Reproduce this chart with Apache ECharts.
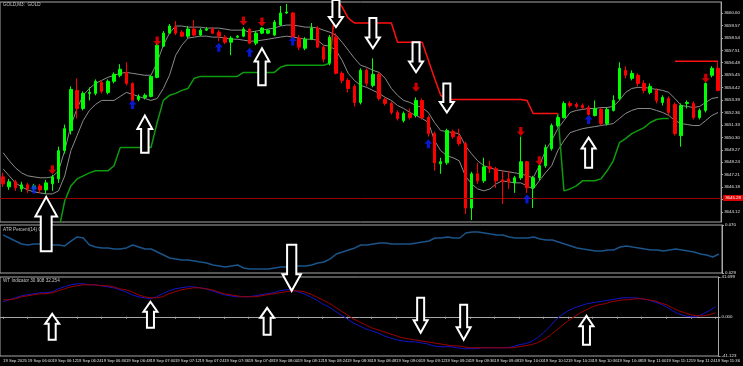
<!DOCTYPE html>
<html><head><meta charset="utf-8">
<script src="https://cdn.jsdelivr.net/npm/echarts@6/dist/echarts.min.js"></script>
<style>html,body{margin:0;padding:0;background:#000;}#c{width:743px;height:366px;}</style>
</head><body><div id="c"></div>
<script>
// ---------- DATA ----------
const times = [
'05:48','05:51','05:54','05:57',
'06:00','06:03','06:06','06:09','06:12','06:15','06:18','06:21','06:24','06:27','06:30','06:33','06:36','06:39','06:42','06:45','06:48','06:51','06:54','06:57',
'07:00','07:03','07:06','07:09','07:12','07:15','07:18','07:21','07:24','07:27','07:30','07:33','07:36','07:39','07:42','07:45','07:48','07:51','07:54','07:57',
'08:00','08:03','08:06','08:09','08:12','08:15','08:18','08:21','08:24','08:27','08:30','08:33','08:36','08:39','08:42','08:45','08:48','08:51','08:54','08:57',
'09:00','09:03','09:06','09:09','09:12','09:15','09:18','09:21','09:24','09:27','09:30','09:33','09:36','09:39','09:42','09:45','09:48','09:51','09:54','09:57',
'10:00','10:03','10:06','10:09','10:12','10:15','10:18','10:21','10:24','10:27','10:30','10:33','10:36','10:39','10:42','10:45','10:48','10:51','10:54','10:57',
'11:00','11:03','11:06','11:09','11:12','11:15','11:18','11:21','11:24','11:27','11:30','11:33','11:36'];

// [open, close, low, high]
const candles = [
[3647.03,3646.45,3646.20,3647.36],[3646.20,3646.62,3645.95,3646.86],[3646.62,3646.12,3645.87,3646.78],[3646.03,3646.37,3645.79,3646.62],
[3646.37,3646.03,3645.70,3646.53],[3646.03,3646.28,3645.87,3646.45],[3646.28,3645.95,3645.70,3646.45],[3645.95,3646.53,3645.62,3646.78],
[3646.45,3647.03,3645.87,3647.20],[3646.86,3649.20,3646.53,3649.53],[3649.20,3651.02,3648.95,3651.36],[3650.86,3654.27,3650.53,3654.52],
[3654.19,3652.69,3651.86,3655.19],[3652.69,3653.94,3652.53,3654.11],[3653.94,3654.02,3653.36,3654.44],[3653.94,3654.94,3653.78,3655.10],
[3654.85,3654.11,3653.94,3655.02],[3654.02,3654.94,3653.86,3655.10],[3654.94,3655.52,3654.77,3655.68],[3655.44,3655.94,3655.27,3656.36],
[3655.68,3654.77,3654.60,3656.52],[3654.77,3653.36,3653.28,3654.85],[3653.44,3653.69,3653.28,3653.86],[3653.61,3653.78,3653.44,3653.94],
[3653.69,3655.35,3653.61,3655.44],[3655.27,3657.93,3655.19,3658.10],[3657.85,3658.93,3657.77,3659.10],[3658.93,3659.52,3658.85,3659.69],
[3659.43,3658.93,3658.77,3659.93],[3659.01,3658.68,3658.60,3659.18],[3658.68,3659.27,3658.52,3659.52],[3659.27,3658.77,3658.68,3660.02],
[3658.77,3659.18,3658.68,3659.35],[3659.18,3659.27,3659.10,3659.43],[3659.27,3658.93,3658.85,3659.43],[3659.01,3658.68,3658.27,3659.18],
[3658.60,3658.18,3658.02,3658.77],[3658.18,3658.52,3657.10,3658.68],[3658.60,3658.68,3658.52,3658.77],[3658.68,3659.27,3658.60,3659.43],
[3659.27,3658.10,3658.02,3659.35],[3658.10,3658.93,3657.93,3659.10],[3658.93,3659.35,3658.85,3659.43],[3658.93,3659.18,3658.85,3659.27],
[3658.77,3659.85,3658.68,3660.02],[3659.60,3660.60,3659.52,3661.18],[3660.60,3660.68,3660.52,3661.35],[3660.60,3658.60,3658.52,3660.68],
[3658.52,3657.77,3657.52,3658.77],[3657.68,3658.43,3657.52,3658.60],[3658.43,3659.35,3658.35,3659.77],[3659.35,3657.77,3657.68,3659.52],
[3657.77,3656.77,3656.52,3657.93],[3656.44,3658.60,3656.27,3658.77],[3658.60,3655.60,3655.52,3658.93],[3655.60,3655.02,3654.77,3655.77],
[3655.02,3654.35,3654.02,3655.19],[3654.52,3653.19,3652.86,3654.69],[3653.19,3655.85,3653.03,3656.02],[3655.85,3654.77,3654.52,3656.02],
[3654.60,3655.52,3654.44,3656.85],[3655.52,3653.52,3653.36,3655.68],[3653.44,3653.11,3652.94,3653.61],[3653.11,3652.36,3652.19,3653.28],
[3652.36,3651.86,3651.69,3652.53],[3651.69,3652.28,3651.53,3652.44],[3652.28,3651.94,3651.78,3652.69],[3652.11,3653.36,3651.94,3653.61],
[3653.36,3651.94,3651.78,3653.52],[3651.94,3650.61,3650.36,3652.11],[3650.61,3648.19,3647.53,3650.78],[3648.11,3648.28,3647.28,3648.61],
[3648.19,3650.86,3648.03,3651.02],[3650.78,3650.36,3650.20,3650.94],[3650.36,3649.78,3649.61,3651.02],[3649.78,3644.45,3643.95,3649.95],
[3644.45,3647.28,3643.45,3647.45],[3647.28,3646.70,3646.45,3648.19],[3646.70,3647.86,3646.53,3648.61],[3647.86,3647.69,3647.36,3648.36],
[3647.69,3646.70,3646.12,3647.86],[3646.78,3646.62,3644.78,3647.53],[3646.86,3646.62,3646.03,3647.53],[3646.53,3646.95,3645.70,3647.11],
[3646.95,3648.28,3646.78,3650.36],[3648.28,3646.12,3645.70,3648.36],[3646.12,3646.95,3644.45,3647.11],[3646.95,3647.95,3646.70,3648.03],
[3647.95,3649.45,3647.78,3649.70],[3649.36,3651.28,3649.20,3651.44],[3651.28,3651.94,3651.11,3652.11],[3651.94,3653.11,3651.86,3653.28],
[3653.11,3652.94,3652.77,3653.28],[3653.03,3652.86,3652.69,3653.19],[3652.94,3652.77,3652.61,3653.11],[3652.77,3652.19,3652.11,3652.94],
[3652.11,3652.69,3652.03,3653.36],[3652.61,3651.44,3651.28,3652.77],[3651.44,3652.61,3651.28,3652.77],[3652.53,3653.36,3652.44,3653.78],
[3653.52,3656.02,3653.36,3656.52],[3655.85,3655.44,3655.19,3656.19],[3655.19,3655.60,3655.02,3655.85],[3655.44,3654.77,3654.52,3655.60],
[3654.77,3654.19,3653.94,3655.02],[3654.02,3654.52,3653.86,3654.77],[3654.19,3653.36,3653.11,3654.35],[3653.19,3653.61,3652.94,3653.78],
[3653.52,3652.36,3652.11,3653.69],[3653.03,3650.61,3650.44,3653.19],[3650.44,3652.94,3649.53,3653.11],[3653.11,3653.19,3652.69,3653.36],
[3653.11,3651.94,3651.78,3653.28],[3651.94,3652.53,3651.78,3652.69],[3652.53,3654.77,3652.36,3654.85],[3655.44,3656.02,3655.27,3656.19],
[3656.02,3654.19,3654.11,3656.52]];

const bandUpper = [
3649.03,3648.36,3647.78,3647.36,3647.11,3647.03,3646.95,3646.95,3647.03,3647.53,3649.20,3651.28,3652.69,3653.78,3654.35,3654.77,
3655.02,3655.27,3655.44,3655.60,3655.68,3655.60,3655.52,3655.44,3655.44,3656.52,3657.93,3658.93,3659.52,3659.52,3659.43,3659.43,
3659.43,3659.35,3659.35,3659.35,3659.27,3659.18,3659.18,3659.18,3659.01,3659.10,3659.18,3659.27,3659.35,3659.52,3659.60,3659.60,
3659.52,3659.43,3659.43,3659.35,3659.18,3659.01,3658.77,3658.18,3657.52,3656.85,3656.27,3656.10,3655.85,3655.68,3655.19,3654.35,
3653.78,3653.36,3653.19,3652.94,3652.77,3652.36,3651.53,3650.86,3650.78,3650.69,3650.61,3649.61,3648.95,3648.36,3647.95,3647.78,
3647.61,3647.53,3647.45,3647.36,3647.28,3647.11,3646.95,3647.95,3649.20,3650.03,3651.02,3651.69,3652.36,3652.53,3652.61,3652.69,
3652.69,3652.77,3652.77,3652.86,3653.36,3654.02,3654.35,3654.44,3654.44,3654.35,3654.27,3654.19,3654.02,3653.52,3652.94,3652.86,
3652.77,3652.86,3653.19,3653.52,3653.61];

const bandLower = [
3647.69,3647.11,3646.53,3646.20,3645.95,3645.79,3645.70,3645.62,3645.62,3645.87,3647.11,3649.20,3650.44,3651.69,3652.53,3653.03,
3653.36,3653.36,3653.36,3653.69,3654.02,3653.86,3653.69,3653.52,3653.36,3653.52,3654.35,3655.44,3657.10,3657.93,3658.52,3658.60,
3658.68,3658.68,3658.60,3658.60,3658.52,3658.43,3658.43,3658.35,3658.27,3658.27,3658.35,3658.43,3658.52,3658.60,3658.68,3658.60,
3658.52,3658.43,3658.43,3658.35,3657.93,3657.85,3657.52,3656.69,3655.60,3655.02,3654.60,3654.44,3654.19,3653.94,3653.61,3653.36,
3652.94,3652.69,3652.36,3652.11,3651.86,3651.53,3650.03,3649.20,3648.78,3648.61,3648.36,3647.11,3646.45,3646.03,3645.87,3646.03,
3646.45,3646.70,3646.62,3646.53,3646.53,3646.28,3646.03,3646.70,3647.36,3647.95,3649.20,3650.03,3650.69,3650.86,3651.02,3651.11,
3651.19,3651.28,3651.36,3651.44,3651.86,3652.28,3652.53,3652.69,3652.69,3652.69,3652.53,3652.36,3652.11,3651.69,3651.44,3651.36,
3651.28,3651.28,3651.69,3652.11,3652.36];

const supportLine = [
null,null,null,null,null,null,null,null,null,3642.54,3645.03,3646.28,3646.86,3647.11,3647.36,3647.53,
3647.53,3647.53,3647.95,3649.45,3649.45,3649.45,3649.45,3649.45,3649.45,3651.53,3653.36,3653.78,3653.94,3654.19,3654.35,3655.19,
3655.35,3655.35,3655.35,3655.35,3655.35,3655.35,3655.35,3655.68,3655.68,3655.68,3655.68,3655.68,3655.68,3656.10,3656.27,3656.27,
3656.27,3656.27,3656.27,3656.27,3656.27,3656.44,null,null,null,null,null,null,null,null,null,null,
null,null,null,null,null,null,null,null,null,null,null,null,null,null,null,null,
null,null,null,null,null,null,null,null,null,null,3652.28,3645.87,3646.03,3646.28,3646.70,3646.70,
3646.70,3646.86,3647.53,3648.36,3649.86,3650.19,3650.61,3650.86,3651.11,3651.53,3651.78,3651.86,3651.86,null,null,null,
null,null,null,null,null];

const resistLine = [
null,null,null,null,null,null,null,null,null,null,null,null,null,null,null,null,
null,null,null,null,null,null,null,null,null,null,null,null,null,null,null,null,
null,null,null,null,null,null,null,null,null,null,null,null,null,null,null,null,
null,null,null,null,null,3656.44,3661.85,3661.10,3660.18,3659.77,3659.77,3659.77,3659.77,3659.77,3659.77,3659.77,
3658.18,3658.18,3658.18,3658.18,3658.18,3656.69,3655.19,3653.78,3653.44,3653.44,3653.44,3653.44,3653.44,3653.44,3653.44,3653.44,
3653.44,3653.44,3653.44,3653.44,3653.44,3653.36,3652.28,3652.28,3652.28,3652.28,3652.28,null,null,null,null,null,
null,null,null,null,null,null,null,null,null,null,null,null,null,3656.60,3656.60,3656.60,
3656.60,3656.60,3656.60,3656.60,3656.60];

const atrValues = [
0.0615,0.0589,0.0563,0.0538,0.0529,0.0538,0.0538,0.0529,0.0529,0.0529,0.0521,0.0563,0.0598,0.0589,0.0529,0.0512,
0.0504,0.0504,0.0495,0.0495,0.0504,0.0529,0.0512,0.0495,0.0495,0.0469,0.0444,0.0418,0.0410,0.0401,0.0401,0.0393,
0.0384,0.0375,0.0358,0.0350,0.0341,0.0350,0.0358,0.0333,0.0324,0.0324,0.0324,0.0324,0.0333,0.0341,0.0341,0.0350,
0.0350,0.0350,0.0358,0.0375,0.0384,0.0410,0.0452,0.0469,0.0487,0.0504,0.0529,0.0529,0.0538,0.0546,0.0546,0.0538,
0.0538,0.0538,0.0538,0.0546,0.0555,0.0563,0.0589,0.0589,0.0598,0.0589,0.0589,0.0632,0.0640,0.0640,0.0632,0.0623,
0.0615,0.0615,0.0598,0.0589,0.0589,0.0589,0.0598,0.0580,0.0572,0.0572,0.0555,0.0538,0.0521,0.0504,0.0495,0.0487,
0.0478,0.0478,0.0487,0.0487,0.0512,0.0521,0.0512,0.0504,0.0495,0.0487,0.0487,0.0478,0.0487,0.0495,0.0487,0.0478,
0.0469,0.0452,0.0444,0.0427,0.0452];

const wtBlue = [
15.7,17.8,19.9,22.0,23.1,24.1,25.2,25.2,26.2,29.3,31.4,33.5,34.6,34.6,33.5,33.5,
32.5,31.4,30.4,28.3,26.2,23.1,21.0,19.9,18.9,21.0,24.1,27.2,29.3,30.4,31.4,31.4,
30.4,29.3,27.2,25.2,23.1,22.0,21.0,21.0,21.0,22.0,23.1,24.1,25.2,27.2,28.3,28.3,
26.2,24.1,21.0,17.8,13.6,10.5,6.3,2.1,-2.1,-6.3,-9.4,-12.6,-14.7,-16.8,-19.9,-22.0,
-24.1,-25.2,-26.2,-26.2,-27.2,-28.3,-30.4,-31.4,-31.4,-31.4,-32.5,-33.5,-33.5,-33.5,-32.5,-32.5,
-32.5,-32.5,-32.5,-31.4,-29.3,-28.3,-26.2,-22.0,-16.8,-10.5,-3.1,2.1,6.3,9.4,11.5,13.6,
14.7,15.7,16.8,17.8,18.9,19.9,19.9,19.9,18.9,17.8,15.7,13.6,10.5,6.3,3.1,1.0,
0.0,0.0,3.1,6.3,10.5];

const wtRed = [
17.8,17.8,18.9,21.0,22.0,23.1,24.1,24.1,25.2,27.2,29.3,31.4,32.5,33.5,33.5,33.5,
32.5,32.5,31.4,29.3,28.3,26.2,23.1,21.0,19.9,19.9,21.0,24.1,26.2,28.3,29.3,30.4,
30.4,29.3,28.3,26.2,24.1,23.1,22.0,21.0,21.0,21.0,22.0,23.1,24.1,25.2,26.2,27.2,
27.2,26.2,24.1,21.0,17.8,14.7,10.5,6.3,2.1,-2.1,-5.2,-8.4,-11.5,-13.6,-15.7,-17.8,
-19.9,-22.0,-23.1,-24.1,-25.2,-26.2,-27.2,-28.3,-29.3,-30.4,-30.4,-31.4,-32.5,-32.5,-32.5,-32.5,
-32.5,-32.5,-32.5,-32.5,-31.4,-30.4,-29.3,-27.2,-24.1,-19.9,-14.7,-9.4,-4.2,0.0,4.2,7.3,
10.5,12.6,13.6,15.7,16.8,17.8,17.8,18.9,18.9,17.8,16.8,14.7,12.6,9.4,6.3,4.2,
2.1,1.0,1.0,2.1,4.2];

// [candle index, price]
const sellSignals = [[8,3647.61],[25,3658.27],[39,3659.93],[42,3659.85],[67,3654.44],[84,3650.78],[87,3648.36],[114,3655.19]];
const buySignals  = [[5,3646.03],[21,3653.03],[35,3657.77],[40,3657.35],[47,3658.27],[69,3649.78],[85,3645.20],[95,3651.78]];

// drawn hollow arrows: [candle index, tip value, tail value]
const priceArrows = [[7,3645.37,3640.87],[23,3652.11,3649.03],[42,3657.68,3654.61],[54,3659.43,3661.68],
                     [60,3657.68,3660.18],[67,3655.69,3658.18],[72,3652.36,3654.77],[95,3650.28,3647.78]];
const wtArrows = [[8,3.1,-24.1],[24,15.7,-11.5],[43,9.4,-18.9],[47,27.2,75.5],[68,-16.8,19.9],[75,-24.1,12.6],[95,1.0,-29.3]];

const priceTicks = [3644.12,3645.15,3646.18,3647.21,3648.24,3649.27,3650.30,3651.33,3652.36,3653.39,3654.42,3655.45,3656.48,3657.51,3658.54,3659.57,3660.60];
const atrTicks = [0.029,0.070];
const wtTicks = [-41.123,0,41.699];
const hLinePrice = 3645.28;

// ---------- CHART ----------
const FONT = '"Liberation Sans Narrow", "Liberation Sans", Arial, sans-serif';
const FONT_Y = '"Liberation Sans", Arial, sans-serif';
const FRAME = '#a8a8a8';
const LBL = '#e0e0e0';
const chart = echarts.init(document.getElementById('c'), null, {renderer:'canvas'});

function arrowItem(params, api) {
  const tip = api.coord([api.value(0), api.value(1)]);
  const tail = api.coord([api.value(0), api.value(2)]);
  const x = tip[0];
  const d = tail[1] > tip[1] ? 1 : -1;
  const len = Math.abs(tail[1] - tip[1]);
  const hl = Math.max(10, len * 0.36);
  const hw = Math.min(11, Math.max(7, len * 0.2));
  const sw = hw * 0.5;
  const by = tip[1] + d * hl;
  return {type:'polygon', shape:{points:[[x,tip[1]],[x+hw,by],[x+sw,by],[x+sw,tail[1]],[x-sw,tail[1]],[x-sw,by],[x-hw,by]]},
          style:{fill:'#000', stroke:'#fff', lineWidth:2}};
}

const gridBase = {left:-2, width:724, show:true, borderColor:FRAME, borderWidth:1, backgroundColor:'#000'};
const yBase = {type:'value', position:'right', splitLine:{show:false},
  axisLine:{show:true, lineStyle:{color:FRAME}}, axisTick:{show:true, length:2, lineStyle:{color:FRAME}},
  axisLabel:{fontSize:4.4, color:LBL, fontFamily:FONT_Y, margin:3, showMinLabel:true, showMaxLabel:true}};

const option = {
  backgroundColor:'#000',
  animation:false,
  title:[
    {text:'GOLD,M3:  GOLD', left:3, top:2, padding:0, textStyle:{fontSize:4.6, color:'#c8c8c8', fontWeight:'normal', fontFamily:FONT_Y}},
    {text:'ATR Percent(14) 0.0324', left:3, top:227, padding:0, textStyle:{fontSize:4.6, color:'#c8c8c8', fontWeight:'normal', fontFamily:FONT_Y}},
    {text:'WT Indicator 30.908 32.254', left:3, top:278, padding:0, textStyle:{fontSize:4.6, color:'#c8c8c8', fontWeight:'normal', fontFamily:FONT_Y}}
  ],
  grid:[
    Object.assign({top:2, height:220}, gridBase),
    Object.assign({top:225, height:48}, gridBase),
    Object.assign({top:277, height:79}, gridBase)
  ],
  xAxis:[0,1,2].map(i => ({
    type:'category', gridIndex:i, data:times, boundaryGap:true,
    axisLine:{show:i===2, lineStyle:{color:FRAME}},
    axisTick:{show:i===2, interval:3, alignWithLabel:true, length:2, lineStyle:{color:FRAME}},
    axisLabel:{show:i===2, interval:3, fontSize:4.2, color:LBL, fontFamily:FONT, align:'left', margin:3,
      showMinLabel:true, showMaxLabel:true, hideOverlap:false,
      formatter:(v, idx) => idx === 0 ? '19 Sep 2025' : '19 Sep ' + v},
    splitLine:{show:false}
  })),
  yAxis:[
    Object.assign({}, yBase, {gridIndex:0, min:3643.29, max:3661.51,
      axisTick:{show:true, length:2, lineStyle:{color:FRAME}, customValues:priceTicks},
      axisLabel:Object.assign({}, yBase.axisLabel, {customValues:priceTicks, formatter:v => v.toFixed(2)})}),
    Object.assign({}, yBase, {gridIndex:1, min:0.029, max:0.070,
      axisTick:{show:true, length:2, lineStyle:{color:FRAME}, customValues:atrTicks},
      axisLabel:Object.assign({}, yBase.axisLabel, {customValues:atrTicks, formatter:v => v.toFixed(3)})}),
    Object.assign({}, yBase, {gridIndex:2, min:-41.123, max:41.699,
      axisTick:{show:true, length:2, lineStyle:{color:FRAME}, customValues:wtTicks},
      axisLabel:Object.assign({}, yBase.axisLabel, {customValues:wtTicks, formatter:v => v.toFixed(3)})})
  ],
  series:[
    {type:'line', name:'upper', xAxisIndex:0, yAxisIndex:0, data:bandUpper, symbol:'none', lineStyle:{color:'#8c8c8c', width:1}, z:2},
    {type:'line', name:'lower', xAxisIndex:0, yAxisIndex:0, data:bandLower, symbol:'none', lineStyle:{color:'#8c8c8c', width:1}, z:2},
    {type:'line', name:'support', xAxisIndex:0, yAxisIndex:0, data:supportLine, symbol:'none', connectNulls:false, lineStyle:{color:'#0f9a0f', width:1.5}, z:3},
    {type:'line', name:'resist', xAxisIndex:0, yAxisIndex:0, data:resistLine, symbol:'none', connectNulls:false, lineStyle:{color:'#ff1010', width:1.5}, z:3},
    {type:'candlestick', name:'GOLD', xAxisIndex:0, yAxisIndex:0, data:candles, barWidth:3,
      itemStyle:{color:'#00ff00', color0:'#ff0000', borderColor:'#00ff00', borderColor0:'#ff0000', borderWidth:1},
      z:4,
      markLine:{silent:true, symbol:['none','none'], data:[{yAxis:hLinePrice}],
        lineStyle:{color:'#9a0000', width:1, type:'solid'},
        label:{show:true, position:'end', distance:2, formatter:hLinePrice.toFixed(2), color:'#fff', backgroundColor:'#e00000', fontSize:4.4, fontFamily:FONT_Y, padding:[1,2]}}},
    {type:'scatter', name:'sell', xAxisIndex:0, yAxisIndex:0, data:sellSignals,
      symbol:'path://M3,0L7,0L7,5L10,5L5,10L0,5L3,5Z', symbolSize:[8,9], itemStyle:{color:'#ff0000'}, z:6},
    {type:'scatter', name:'buy', xAxisIndex:0, yAxisIndex:0, data:buySignals,
      symbol:'path://M5,0L10,5L7,5L7,10L3,10L3,5L0,5Z', symbolSize:[8,9], itemStyle:{color:'#0a1eff'}, z:6},
    {type:'custom', name:'priceArrows', xAxisIndex:0, yAxisIndex:0, data:priceArrows, renderItem:arrowItem, clip:false, z:10},
    {type:'line', name:'ATR', xAxisIndex:1, yAxisIndex:1, data:atrValues, symbol:'none', lineStyle:{color:'#1a5488', width:1.5}},
    {type:'line', name:'WT1', xAxisIndex:2, yAxisIndex:2, data:wtBlue, symbol:'none', lineStyle:{color:'#1414c8', width:1}},
    {type:'line', name:'WT2', xAxisIndex:2, yAxisIndex:2, data:wtRed, symbol:'none', lineStyle:{color:'#a00000', width:1}},
    {type:'custom', name:'wtArrows', xAxisIndex:2, yAxisIndex:2, data:wtArrows, renderItem:arrowItem, clip:false, z:10}
  ]
};
chart.setOption(option);
</script>
</body></html>
